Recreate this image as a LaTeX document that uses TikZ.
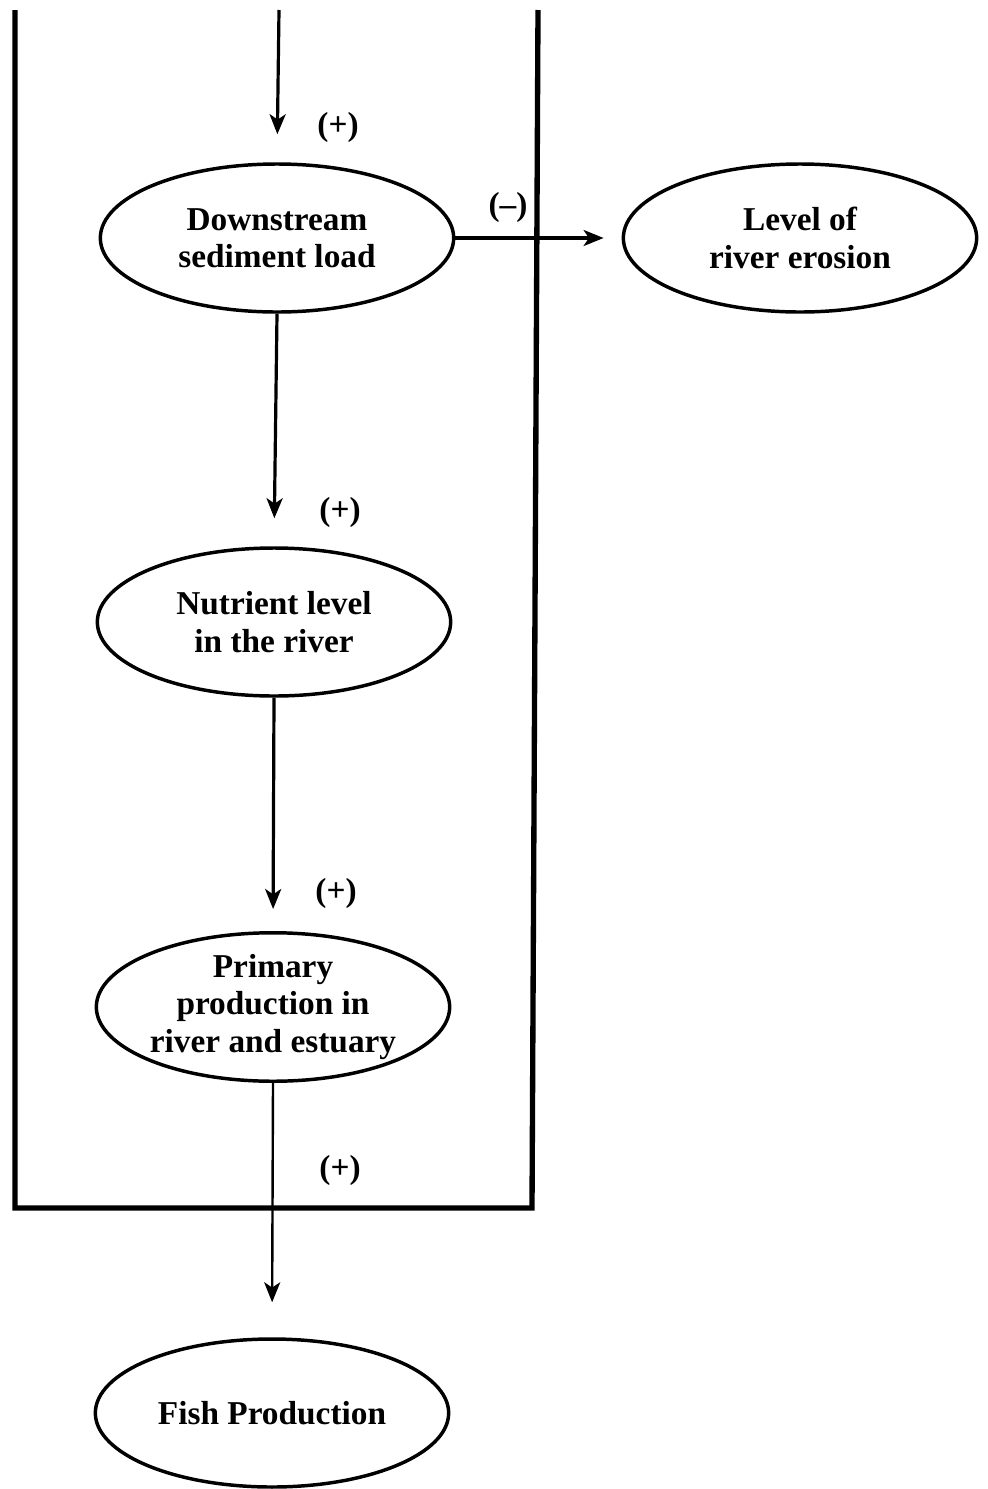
\documentclass[tikz,border=0pt]{standalone}
\usepackage{fontspec}
\setmainfont{Liberation Serif}
\usetikzlibrary{shapes.geometric,arrows.meta}
\begin{document}
\begin{tikzpicture}[x=0.75pt,y=-0.75pt,
  factor/.style={ellipse,draw,line width=2.6pt,inner sep=0pt,
    minimum width=265pt,minimum height=111pt,align=center,
    font=\fontsize{25}{28}\selectfont\bfseries},
  link/.style={line width=2.4pt,-{Stealth[length=15pt,width=12pt,inset=4pt]}},
  sign/.style={font=\fontsize{25}{27}\selectfont\bfseries},
  frame/.style={line width=4pt,line join=miter}]
\useasboundingbox (0,0) rectangle (988,1489);

% system boundary
\coordinate (fa) at (15,10);
\coordinate (fb) at (15,1208);
\coordinate (fc) at (532,1208);
\coordinate (fd) at (538,10);
\draw[frame] (fa) -- (fb) -- (fc) -- (fd);

% factors
\node[factor] (sed) at (277,238) {Downstream\\sediment load};
\node[factor] (ero) at (800,238) {Level of\\river erosion};
\node[factor] (nut) at (274,622) {Nutrient level\\in the river};
\node[factor] (pri) at (273,1007) {Primary\\production in\\river and estuary};
\node[factor] (fish) at (272,1413) {Fish Production};

% influences
\coordinate (in) at (279,10);
\draw[link,shorten >=28pt*0.75] (in) -- (sed.north);
\draw[link,shorten >=18pt*0.75] (sed.east) -- (ero.west);
\draw[link,shorten >=28pt*0.75] (sed.south) -- (nut.north);
\draw[link,shorten >=22pt*0.75] (nut.south) -- (pri.north);
\draw[link,line width=1.8pt,shorten >=35pt*0.75] (pri.south) -- (fish.north);

% signs
\node[sign] (s1) at (338,127) {(+)};
\node[sign] (s2) at (508,207) {(--)};
\node[sign] (s3) at (340,512) {(+)};
\node[sign] (s4) at (336,893) {(+)};
\node[sign] (s5) at (340,1170) {(+)};
\end{tikzpicture}
\end{document}
